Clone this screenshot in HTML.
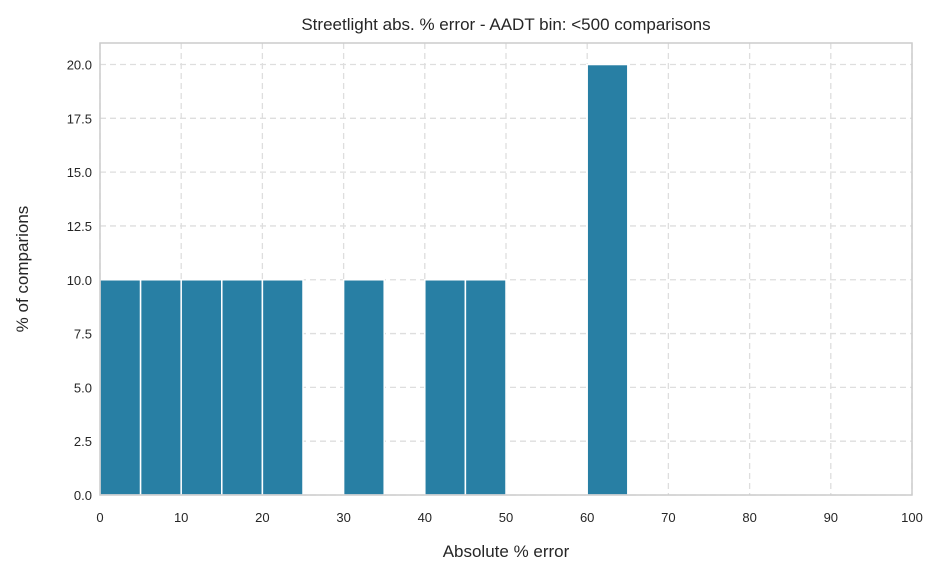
<!DOCTYPE html>
<html><head><meta charset="utf-8"><style>
body{margin:0;background:#fff;}
text{font-family:"Liberation Sans",sans-serif;fill:#262626;}
</style></head><body>
<svg id="chart" width="943" height="577" xmlns="http://www.w3.org/2000/svg"></svg>
<script>
const binStarts=[0,5,10,15,20,25,30,35,40,45,50,55,60,65,70,75,80,85,90,95];
const binWidth=5;
const percents=[10,10,10,10,10,0,10,0,10,10,0,0,20,0,0,0,0,0,0,0];
const xTicks=[0,10,20,30,40,50,60,70,80,90,100];
const yTicks=[0,2.5,5,7.5,10,12.5,15,17.5,20];
const L=100,R=912,T=43,B=495,xMax=100,yMax=21;
const xs=v=>L+(v/xMax)*(R-L);
const ys=v=>B-(v/yMax)*(B-T);
const svg=document.getElementById('chart');
const NS='http://www.w3.org/2000/svg';
function mk(tag,attrs){const e=document.createElementNS(NS,tag);for(const k in attrs)e.setAttribute(k,attrs[k]);svg.appendChild(e);return e;}
xTicks.forEach(t=>{
  const g=mk('line',{x1:xs(t),x2:xs(t),y1:T,y2:B,stroke:'#dedede','stroke-dasharray':'6,4','stroke-width':1.3});
  
  
  const lb=mk('text',{x:xs(t),y:B+27,'text-anchor':'middle','font-size':13});
  lb.textContent=t;
  
  
});
yTicks.forEach(t=>{
  const g=mk('line',{x1:L,x2:R,y1:ys(t),y2:ys(t),stroke:'#dedede','stroke-dasharray':'6,4','stroke-width':1.3});
  
  
  const lb=mk('text',{x:L-8,y:ys(t)+5,'text-anchor':'end','font-size':13});
  lb.textContent=t.toFixed(1);
  
  
});
binStarts.forEach((s,i)=>{
  if(percents[i]<=0)return;
  const b=mk('rect',{x:xs(s),y:ys(percents[i]),width:xs(s+binWidth)-xs(s),height:ys(0)-ys(percents[i]),fill:'#287fa4',stroke:'#fff','stroke-width':1.5});
  
  
});
const f=mk('rect',{x:L,y:T,width:R-L,height:B-T,fill:'none',stroke:'#cccccc','stroke-width':1.5});


const ti=mk('text',{x:(L+R)/2,y:30,'text-anchor':'middle','font-size':17});
ti.textContent='Streetlight abs. % error - AADT bin: <500 comparisons';


const xt=mk('text',{x:(L+R)/2,y:557,'text-anchor':'middle','font-size':17});
xt.textContent='Absolute % error';


const yt=mk('text',{x:0,y:0,'text-anchor':'middle','font-size':17,transform:'translate(28,'+((T+B)/2)+') rotate(-90)'});
yt.setAttribute('transform','translate(28,'+((T+B)/2)+') rotate(-90)');
yt.textContent='% of comparions';


</script>
</body></html>
